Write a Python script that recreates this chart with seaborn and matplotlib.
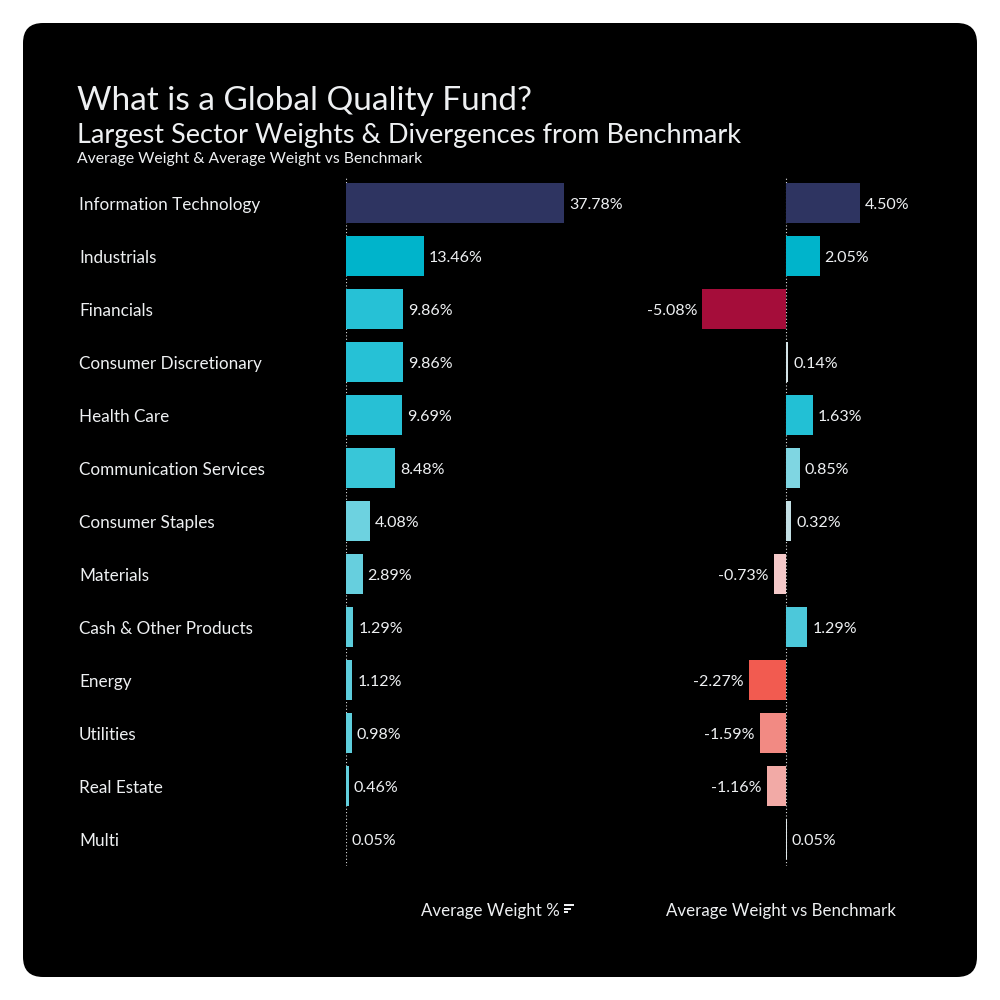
import matplotlib
matplotlib.use("Agg")
import matplotlib.pyplot as plt
import matplotlib.transforms as mtransforms
from matplotlib.patches import FancyBboxPatch, Rectangle
import seaborn as sns
import pandas as pd

sectors = ["Information Technology", "Industrials", "Financials", "Consumer Discretionary",
           "Health Care", "Communication Services", "Consumer Staples", "Materials",
           "Cash & Other Products", "Energy", "Utilities", "Real Estate", "Multi"]
avg_weight = [37.78, 13.46, 9.86, 9.86, 9.69, 8.48, 4.08, 2.89, 1.29, 1.12, 0.98, 0.46, 0.05]
vs_bench = [4.50, 2.05, -5.08, 0.14, 1.63, 0.85, 0.32, -0.73, 1.29, -2.27, -1.59, -1.16, 0.05]

left_colors = ["#2E3461", "#00B4CB", "#26C1D6", "#26C1D6", "#27C0D5", "#38C6D8", "#6DD2E0",
               "#66CFDE", "#5CCDDC", "#5DCDDC", "#5ECEDC", "#62CFDD", "#D8ECEF"]
right_colors = ["#2E3461", "#00B4CB", "#A50D3A", "#D3E3E6", "#22C0D5", "#7FD6E2", "#C3DFE4",
                "#F4C9C9", "#4CC8DA", "#F25B50", "#F28A83", "#F2AAA6", "#E0E8EA"]

df = pd.DataFrame({"sector": sectors, "weight": avg_weight, "vs": vs_bench})

sns.set_theme(style="dark")
plt.rcParams["font.family"] = ["Lato", "DejaVu Sans"]
TXT = "#EEF0F2"

fig = plt.figure(figsize=(10, 10), dpi=100)
fig.patch.set_facecolor("white")
card = FancyBboxPatch((0.023, 0.023), 0.954, 0.954,
                      boxstyle="round,pad=0,rounding_size=0.02",
                      transform=fig.transFigure, facecolor="black", edgecolor="none", zorder=-10)
fig.patches.append(card)

# axes geometry (figure fraction), y from 176.5px to 865.5px from top
y0 = 1 - 865.5 / 1000
h = (865.5 - 176.5) / 1000
axL = fig.add_axes([0.346, y0, 0.274, h])
axR = fig.add_axes([0.680, y0, 0.250, h])

for ax in (axL, axR):
    ax.set_facecolor("none")
    ax.patch.set_alpha(0)
    for s in ax.spines.values():
        s.set_visible(False)
    ax.grid(False)

sns.barplot(data=df, x="weight", y="sector", hue="sector", palette=left_colors,
            legend=False, orient="h", width=0.75, ax=axL, saturation=1,
            linewidth=0, edgecolor="none")
sns.barplot(data=df, x="vs", y="sector", hue="sector", palette=right_colors,
            legend=False, orient="h", width=0.75, ax=axR, saturation=1,
            linewidth=0, edgecolor="none")

axL.set_xlim(0, 274 / 5.77)
axR.set_xlim(-(786 - 680) / 16.44, (930 - 786) / 16.44)
for ax in (axL, axR):
    ax.set_ylim(len(sectors) - 0.5, -0.5)
    ax.set_xticks([])
    ax.set_yticks([])
    ax.set_xlabel("")
    ax.set_ylabel("")
    ax.axvline(0, color="#DDDDDD", lw=0.8, ls=(0, (1, 2)), zorder=0)

fs_val = 11.5
offL = mtransforms.offset_copy(axL.transData, fig=fig, x=5, y=-2, units="dots")
for i, v in enumerate(avg_weight):
    axL.text(v, i, f"{v:.2f}%", transform=offL, color=TXT, fontsize=fs_val,
             va="center", ha="left")
offRp = mtransforms.offset_copy(axR.transData, fig=fig, x=5, y=-2, units="dots")
offRn = mtransforms.offset_copy(axR.transData, fig=fig, x=-5, y=-2, units="dots")
for i, v in enumerate(vs_bench):
    if v >= 0:
        axR.text(v, i, f"{v:.2f}%", transform=offRp, color=TXT, fontsize=fs_val,
                 va="center", ha="left")
    else:
        axR.text(v, i, f"{v:.2f}%", transform=offRn, color=TXT, fontsize=fs_val,
                 va="center", ha="right")

lab_tr = mtransforms.offset_copy(
    mtransforms.blended_transform_factory(fig.transFigure, axL.transData),
    fig=fig, x=0, y=-2, units="dots")
for i, s in enumerate(sectors):
    axL.text(0.079, i, s, transform=lab_tr, color=TXT, fontsize=12.3,
             va="center", ha="left", clip_on=False)

fig.text(0.077, 0.890, "What is a Global Quality Fund?", color=TXT, fontsize=24, va="baseline")
fig.text(0.077, 0.857, "Largest Sector Weights & Divergences from Benchmark", color=TXT,
         fontsize=19.5, va="baseline")
fig.text(0.077, 0.837, "Average Weight & Average Weight vs Benchmark", color=TXT,
         fontsize=11.3, va="baseline")

fig.text(0.490, 0.089, "Average Weight %", color=TXT, fontsize=12.2, ha="center", va="center")
fig.text(0.781, 0.089, "Average Weight vs Benchmark", color=TXT, fontsize=12.2, ha="center", va="center")
# small sort icon
for k, wdt in enumerate([0.010, 0.007, 0.004]):
    fig.patches.append(Rectangle((0.564, 0.094 - k * 0.0035), wdt, 0.002,
                                 transform=fig.transFigure, facecolor=TXT, edgecolor="none"))

fig.savefig("out.png", dpi=100, facecolor=fig.get_facecolor())
